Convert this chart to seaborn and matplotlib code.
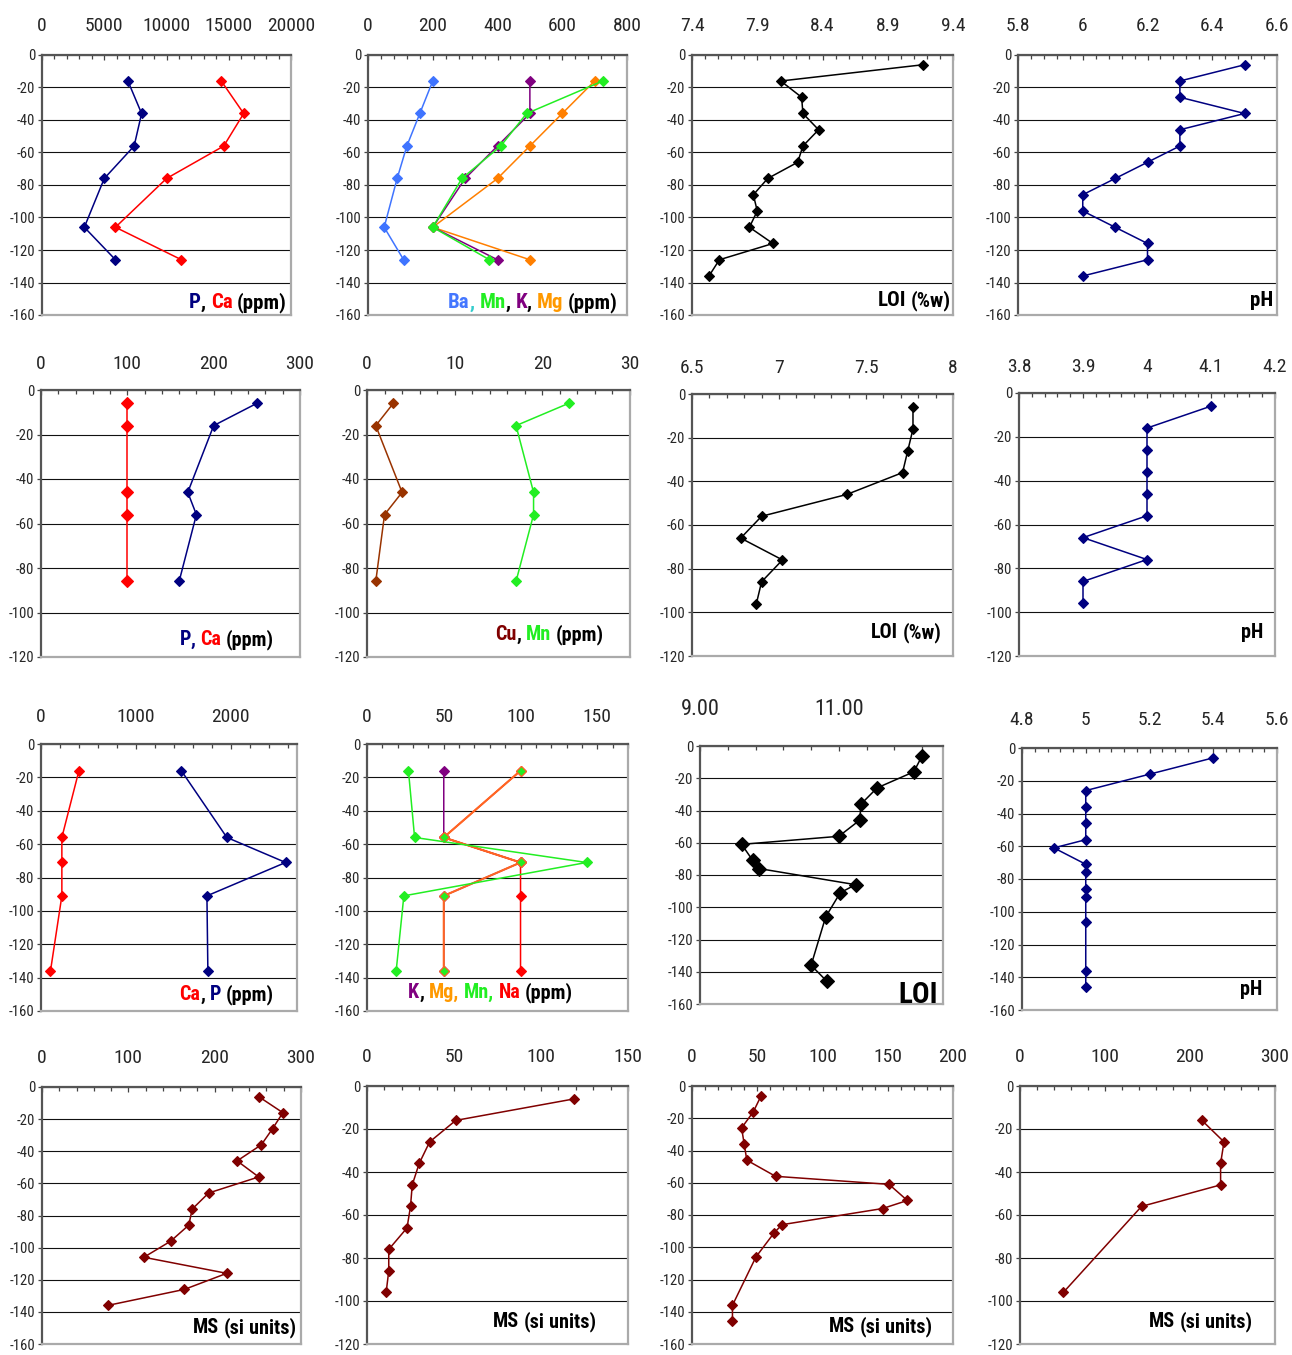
import numpy as np
import matplotlib
matplotlib.use("Agg")
import matplotlib.pyplot as plt
from matplotlib import font_manager
from matplotlib.ticker import FixedLocator, AutoMinorLocator, FixedFormatter
import seaborn as sns

# ------------------------------------------------------------------ data
# Row 1
r1_depth_chem = [-16, -36, -56, -76, -106, -126]
r1_P = [6900, 8000, 7400, 5000, 3400, 5900]
r1_Ca = [14400, 16200, 14600, 10000, 5900, 11200]
r1_Ba = [200, 160, 120, 90, 50, 110]
r1_Mn = [725, 490, 410, 290, 200, 375]
r1_K = [500, 500, 400, 300, 200, 400]
r1_Mg = [700, 600, 500, 400, 200, 500]
r1_depth = [-6, -16, -26, -36, -46, -56, -66, -76, -86, -96, -106, -116, -126, -136]
r1_LOI = [9.17, 8.08, 8.24, 8.25, 8.37, 8.25, 8.21, 7.98, 7.87, 7.90, 7.84, 8.02, 7.61, 7.53]
r1_pH = [6.5, 6.3, 6.3, 6.5, 6.3, 6.3, 6.2, 6.1, 6.0, 6.0, 6.1, 6.2, 6.2, 6.0]

# Row 2
r2_depth_chem = [-6, -16, -46, -56, -86]
r2_Ca = [100, 100, 100, 100, 100]
r2_P = [250, 200, 170, 180, 160]
r2_Cu = [3, 1, 4, 2, 1]
r2_Mn = [23, 17, 19, 19, 17]
r2_depth = [-6, -16, -26, -36, -46, -56, -66, -76, -86, -96]
r2_LOI = [7.77, 7.77, 7.74, 7.71, 7.39, 6.90, 6.78, 7.02, 6.90, 6.87]
r2_pH = [4.1, 4.0, 4.0, 4.0, 4.0, 4.0, 3.9, 4.0, 3.9, 3.9]

# Row 3
r3_depth_chem = [-16, -56, -71, -91, -136]
r3_Ca = [400, 220, 220, 220, 100]
r3_P = [1480, 1960, 2580, 1750, 1760]
r3_K = [50, 50, 100, 50, 50]
r3_Mg = [100, 50, 100, 50, 50]
r3_Mn = [27, 31, 143, 24, 19]
r3_Na = [100, 50, 100, 100, 100]
r3_depth = [-6, -16, -26, -36, -46, -56, -61, -71, -76, -86, -91, -106, -136, -146]
r3_LOI = [12.20, 12.08, 11.55, 11.32, 11.30, 11.00, 9.60, 9.76, 9.85, 11.24, 11.02, 10.81, 10.60, 10.83]
r3_pH = [5.4, 5.2, 5.0, 5.0, 5.0, 5.0, 4.9, 5.0, 5.0, 5.0, 5.0, 5.0, 5.0, 5.0]

# Row 4 (magnetic susceptibility)
r4a_depth = [-6, -16, -26, -36, -46, -56, -66, -76, -86, -96, -106, -116, -126, -136]
r4a_MS = [251, 279, 267, 254, 226, 251, 193, 174, 170, 149, 118, 214, 165, 76]
r4b_depth = [-6, -16, -26, -36, -46, -56, -66, -76, -86, -96]
r4b_MS = [119, 51, 36, 30, 26, 25, 23, 12.5, 12.5, 11]
r4c_depth = [-6, -16, -26, -36, -46, -56, -61, -71, -76, -86, -91, -106, -136, -146]
r4c_MS = [53, 47, 38, 40, 42, 64, 151, 165, 146, 69, 63, 49, 31, 31]
r4d_depth = [-16, -26, -36, -46, -56, -96]
r4d_MS = [214, 240, 236, 236, 143, 51]

# tick values
t_20000 = [0, 5000, 10000, 15000, 20000]
t_800 = [0, 200, 400, 600, 800]
t_loi1 = [7.4, 7.9, 8.4, 8.9, 9.4]
t_ph1 = [5.8, 6.0, 6.2, 6.4, 6.6]
t_300 = [0, 100, 200, 300]
t_30 = [0, 10, 20, 30]
t_loi2 = [6.5, 7.0, 7.5, 8.0]
t_ph2 = [3.8, 3.9, 4.0, 4.1, 4.2]
t_2000 = [0, 1000, 2000]
t_150 = [0, 50, 100, 150]
t_loi3 = [9.0, 11.0]
t_loi3_labels = ["9.00", "11.00"]
t_ph3 = [4.8, 5.0, 5.2, 5.4, 5.6]
t_200 = [0, 50, 100, 150, 200]

# ------------------------------------------------------------------ style
sns.set_style("white")
byname = {}
for f in font_manager.fontManager.ttflist:
    byname.setdefault(f.name, []).append(f)
FAM, STRETCH, NS, LS = None, "normal", 1.0, 1.0
for nm in ["Liberation Sans Narrow", "Arial Narrow", "Roboto Condensed",
           "Open Sans Condensed", "Noto Sans Condensed", "DejaVu Sans Condensed"]:
    if nm in byname:
        FAM = nm
        break
if FAM is None:
    for nm in ["Noto Sans", "Roboto", "Open Sans", "DejaVu Sans"]:
        if any(str(f.stretch) in ("condensed", "semi-condensed", "extra-condensed")
               for f in byname.get(nm, [])):
            FAM, STRETCH = nm, "condensed"
            break
if FAM is None:
    FAM, NS, LS = "Liberation Sans", 0.86, 0.93
FONT = [FAM, "DejaVu Sans"]
plt.rcParams["font.family"] = FONT
plt.rcParams["font.stretch"] = STRETCH
plt.rcParams["axes.unicode_minus"] = False

W, H = 1292, 1355
fig = plt.figure(figsize=(W / 100, H / 100), dpi=100)

NAVY = "#000080"
RED = "#ff0000"
BA = "#3f74ff"
GREEN = "#22ee22"
PURPLE = "#800080"
ORANGE = "#ff7f00"
ORED = "#ff6622"
BROWN = "#993300"
MAROON = "#800000"

def px2pt(p):
    return p * 0.72

def panel(rect, xlim, xticks, ybot, series, pad_px, tsize=14, xlabels=None):
    l, t, r, b = rect
    ax = fig.add_axes([l / W, 1 - b / H, (r - l) / W, (b - t) / H])
    for s in series:
        c = s["c"]
        sns.lineplot(x=s["x"], y=s["y"], ax=ax, sort=False, estimator=None, color=c,
                     linewidth=s.get("lw", 1.1), marker="D",
                     markersize=s.get("ms", 5), markeredgecolor=s.get("mec", c),
                     markerfacecolor=s.get("mfc", c), markeredgewidth=0.8)
    ax.set_xlim(*xlim)
    ax.set_ylim(ybot, 0)
    ax.xaxis.set_major_locator(FixedLocator(xticks))
    if xlabels is None:
        xlabels = ["%g" % v for v in xticks]
    ax.xaxis.set_major_formatter(FixedFormatter(xlabels))
    ax.xaxis.set_minor_locator(AutoMinorLocator(5))
    yt = np.arange(ybot, 1, 20)
    ax.set_yticks(yt)
    ax.set_yticklabels(["%d" % v for v in yt])
    ax.set_xlabel("")
    ax.set_ylabel("")
    ax.xaxis.set_ticks_position("top")
    ax.tick_params(axis="x", which="both", direction="in", top=True, bottom=False,
                   labeltop=True, labelbottom=False, color="#444444", width=0.9)
    ax.tick_params(axis="x", which="major", length=3.5, pad=px2pt(pad_px),
                   labelsize=tsize * NS)
    ax.tick_params(axis="x", which="minor", length=3)
    ax.tick_params(axis="y", which="major", direction="out", left=True, length=3,
                   width=0.9, color="#444444", pad=2, labelsize=10.5 * NS)
    ax.yaxis.grid(True, color="#111111", linewidth=0.8)
    ax.xaxis.grid(False)
    ax.set_axisbelow(True)
    for sp in ("left", "top"):
        ax.spines[sp].set_color("#555555")
        ax.spines[sp].set_linewidth(1.6)
    for sp in ("right", "bottom"):
        ax.spines[sp].set_color("#aaaaaa")
        ax.spines[sp].set_linewidth(1.6)
    ax.set_facecolor("white")
    return ax

labels = []

def add_label(rect, inset, base, pieces, size=14):
    labels.append((rect[2] - inset, base, pieces, size))

MSL = [("MS", "k"), (" ", None), ("(si", "k"), (" ", None), ("units)", "k")]

# ---------------- row 1
R = (42, 55, 291, 315)
panel(R, (0, 20000), t_20000, -160,
      [dict(x=r1_P, y=r1_depth_chem, c=NAVY), dict(x=r1_Ca, y=r1_depth_chem, c=RED)], 20)
add_label(R, 4, 308, [("P", NAVY), (",", "k"), (" ", None), ("Ca", RED), (" ", None), ("(ppm)", "k")], 15)

R = (368, 55, 627, 315)
panel(R, (0, 800), t_800, -160,
      [dict(x=r1_Ba, y=r1_depth_chem, c=BA), dict(x=r1_Mg, y=r1_depth_chem, c=ORANGE),
       dict(x=r1_K, y=r1_depth_chem, c=PURPLE), dict(x=r1_Mn, y=r1_depth_chem, c=GREEN)], 20)
add_label(R, 9, 308, [("Ba", "#4477ff"), (",", "#33cccc"), (" ", None), ("Mn", GREEN), (",", "k"), (" ", None),
                      ("K", PURPLE), (",", "k"), (" ", None), ("Mg", "#ff9900"), (" ", None), ("(ppm)", "k")], 15)

R = (692, 55, 953, 315)
panel(R, (7.4, 9.4), t_loi1, -160, [dict(x=r1_LOI, y=r1_depth, c="black")], 20)
add_label(R, 2, 306, [("LOI", "k"), (" ", None), ("(%w)", "k")], 15)

R = (1018, 55, 1277, 315)
panel(R, (5.8, 6.6), t_ph1, -160, [dict(x=r1_pH, y=r1_depth, c=NAVY)], 20)
add_label(R, 4, 306, [("pH", "k")], 15)

# ---------------- row 2
R = (41, 390, 300, 657)
panel(R, (0, 300), t_300, -120,
      [dict(x=r2_Ca, y=r2_depth_chem, c=RED, ms=6.5), dict(x=r2_P, y=r2_depth_chem, c=NAVY)], 17)
add_label(R, 26, 645, [("P", NAVY), (",", NAVY), (" ", None), ("Ca", RED), (" ", None), ("(ppm)", "k")], 14.5)

R = (367, 390, 630, 657)
panel(R, (0, 30), t_30, -120,
      [dict(x=r2_Cu, y=r2_depth_chem, c=BROWN), dict(x=r2_Mn, y=r2_depth_chem, c=GREEN)], 17)
add_label(R, 26, 640, [("Cu", MAROON), (",", "k"), (" ", None), ("Mn", GREEN), (" ", None), ("(ppm)", "k")], 14.5)

R = (692, 394, 953, 656)
panel(R, (6.5, 8.0), t_loi2, -120, [dict(x=r2_LOI, y=r2_depth, c="black")], 17)
add_label(R, 12, 638, [("LOI", "k"), (" ", None), ("(%w)", "k")], 14.5)

R = (1019, 393, 1275, 656)
panel(R, (3.8, 4.2), t_ph2, -120, [dict(x=r2_pH, y=r2_depth, c=NAVY)], 17)
add_label(R, 12, 638, [("pH", "k")], 14.5)

# ---------------- row 3
R = (41, 744, 297, 1011)
panel(R, (0, 2700), t_2000, -160,
      [dict(x=r3_Ca, y=r3_depth_chem, c=RED), dict(x=r3_P, y=r3_depth_chem, c=NAVY)], 18)
add_label(R, 23, 1000, [("Ca", RED), (",", "k"), (" ", None), ("P", NAVY), (" ", None), ("(ppm)", "k")], 14.5)

R = (367, 744, 628, 1011)
panel(R, (0, 170), t_150, -160,
      [dict(x=r3_K, y=r3_depth_chem, c=PURPLE),
       dict(x=r3_Na, y=r3_depth_chem, c=RED),
       dict(x=r3_Mg, y=r3_depth_chem, c=ORED, mfc=GREEN, lw=1.5),
       dict(x=r3_Mn, y=r3_depth_chem, c=GREEN)], 18)
add_label(R, 55, 998, [("K", PURPLE), (",", "k"), (" ", None), ("Mg,", "#ff9900"), (" ", None),
                       ("Mn,", GREEN), (" ", None), ("Na", RED), (" ", None), ("(ppm)", "k")], 14.5)

R = (700, 746, 943, 1004)
panel(R, (9.0, 12.5), t_loi3, -160, [dict(x=r3_LOI, y=r3_depth, c="black", ms=7)], 26,
      tsize=16, xlabels=t_loi3_labels)
add_label(R, 5, 1003, [("LOI", "k")], 21)

R = (1022, 748, 1277, 1010)
panel(R, (4.8, 5.6), t_ph3, -160, [dict(x=r3_pH, y=r3_depth, c=NAVY)], 19)
add_label(R, 15, 995, [("pH", "k")], 14.5)

# ---------------- row 4
R = (42, 1087, 301, 1344)
panel(R, (0, 300), t_300, -160, [dict(x=r4a_MS, y=r4a_depth, c=MAROON)], 20)
add_label(R, 5, 1333, MSL, 14.5)

R = (367, 1086, 628, 1344)
panel(R, (0, 150), t_150, -120, [dict(x=r4b_MS, y=r4b_depth, c=MAROON)], 20)
add_label(R, 32, 1327, MSL, 14.5)

R = (692, 1086, 953, 1344)
panel(R, (0, 200), t_200, -160, [dict(x=r4c_MS, y=r4c_depth, c=MAROON)], 20)
add_label(R, 21, 1332, MSL, 14.5)

R = (1020, 1086, 1275, 1344)
panel(R, (0, 300), t_300, -120, [dict(x=r4d_MS, y=r4d_depth, c=MAROON)], 20)
add_label(R, 23, 1327, MSL, 14.5)

# ------------------------------------------------------------------ rich labels
fig.canvas.draw()
renderer = fig.canvas.get_renderer()

def text_w(s, size):
    t = fig.text(0, 0, s, fontsize=size, fontweight="bold", family=FONT, fontstretch=STRETCH)
    w = t.get_window_extent(renderer).width
    t.remove()
    return w

for x_right, base, pieces, size in labels:
    size = size * LS
    sp = text_w("a a", size) - text_w("aa", size)
    x = x_right
    for txt, col in reversed(pieces):
        if txt == " ":
            x -= sp
            continue
        t = fig.text(x / W, 1 - base / H, txt, color=col, ha="right", va="baseline",
                     fontsize=size, fontweight="bold", family=FONT, fontstretch=STRETCH)
        bb = t.get_window_extent(renderer)
        x = bb.x0

fig.savefig("out.png", dpi=100, facecolor="white")
